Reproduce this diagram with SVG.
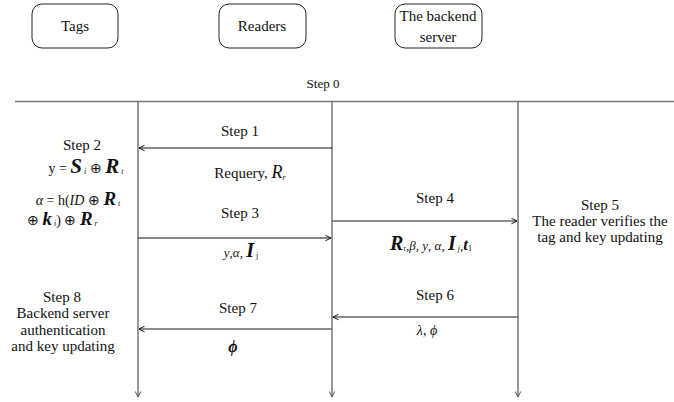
<svg xmlns="http://www.w3.org/2000/svg" width="674" height="402" viewBox="0 0 674 402">
<style>
text{font-family:"Liberation Serif","Times New Roman",serif;fill:#111}
.t{font-size:15px;text-anchor:middle}
.h{font-size:15px;text-anchor:middle}
.box{fill:#fff;stroke:#222;stroke-width:1}
.life{stroke:#777;stroke-width:1.5;fill:none}
.msg{stroke:#111;stroke-width:1.2;fill:none}
.msgg{stroke:#666;stroke-width:1.3;fill:none}
.bi{font-weight:bold;font-style:italic}
.i{font-style:italic}
</style>
<defs>
<marker id="ah" viewBox="0 0 10 10" refX="9" refY="5" markerWidth="7" markerHeight="7" markerUnits="userSpaceOnUse" orient="auto">
<polyline points="1,1 9,5 1,9" fill="none" stroke="#111" stroke-width="1.4"/>
</marker>
<marker id="ahg" viewBox="0 0 10 10" refX="9" refY="5" markerWidth="7" markerHeight="7" markerUnits="userSpaceOnUse" orient="auto">
<polyline points="1,1 9,5 1,9" fill="none" stroke="#555" stroke-width="1.4"/>
</marker>
</defs>

<g id="tags">
<rect class="box" x="32" y="4" width="86" height="44" rx="10"/>
<text class="h" x="75" y="31">Tags</text>
</g>
<g id="readers">
<rect class="box" x="219" y="4" width="87" height="44" rx="10"/>
<text class="h" x="262" y="31">Readers</text>
</g>
<g id="server">
<rect class="box" x="395" y="4" width="87" height="44" rx="10"/>
<text class="h" x="438" y="21">The backend</text>
<text class="h" x="438" y="42">server</text>
</g>

<g id="connectors">
<line class="life" x1="15" y1="101.5" x2="674" y2="101.5"/>
<line class="life" x1="138" y1="101" x2="138" y2="397" marker-end="url(#ahg)"/>
<line class="life" x1="332" y1="101" x2="332" y2="397" marker-end="url(#ahg)"/>
<line class="life" x1="518" y1="101" x2="518" y2="397" marker-end="url(#ahg)"/>
<line class="msg" x1="332" y1="148" x2="139" y2="148" marker-end="url(#ah)"/>
<line class="msg" x1="138" y1="238" x2="331" y2="238" marker-end="url(#ah)"/>
<line class="msgg" x1="332" y1="221" x2="517" y2="221" marker-end="url(#ah)"/>
<line class="msgg" x1="518" y1="317" x2="333" y2="317" marker-end="url(#ah)"/>
<line class="msgg" x1="332" y1="329" x2="139" y2="329" marker-end="url(#ah)"/>
</g>

<g id="labels">
<text x="323" y="88" font-size="13" text-anchor="middle">Step 0</text>
<text class="t" x="240" y="136">Step 1</text>
<text x="250" y="178" text-anchor="middle" font-size="15">Requery, <tspan class="i" font-size="18">R</tspan><tspan class="i" font-size="8" dy="2">r</tspan></text>
<text class="t" x="240" y="218">Step 3</text>
<text x="241" y="257" text-anchor="middle" font-size="13"><tspan class="i">y</tspan>,<tspan class="i">α</tspan>, <tspan class="bi" font-size="20">I</tspan><tspan font-size="8" dy="1"> j</tspan></text>

<text class="t" x="82" y="150">Step 2</text>
<text x="86" y="173" text-anchor="middle" font-size="14">y = <tspan class="bi" font-size="21">S</tspan><tspan class="i" font-size="8" dy="1"> i</tspan><tspan dy="-1"> ⊕ </tspan><tspan class="bi" font-size="21">R</tspan><tspan class="i" font-size="8" dy="1"> t</tspan></text>
<text x="78" y="205" text-anchor="middle" font-size="14"><tspan class="i">α</tspan> = h(<tspan class="i">ID</tspan> ⊕ <tspan class="bi" font-size="19">R</tspan><tspan class="i" font-size="8" dy="1"> t</tspan></text>
<text x="27" y="225" font-size="14">⊕ <tspan class="bi" font-size="19">k</tspan><tspan class="i" font-size="8" dy="1"> i</tspan><tspan dy="-1">) ⊕ </tspan><tspan class="bi" font-size="19">R</tspan><tspan class="i" font-size="8" dy="1"> r</tspan></text>

<text class="t" x="435" y="203">Step 4</text>
<text x="431" y="250" text-anchor="middle" font-size="13"><tspan class="bi" font-size="20">R</tspan><tspan font-size="8" dy="1">r</tspan><tspan dy="-1">,</tspan><tspan class="i">β</tspan>, <tspan class="i">y</tspan>, <tspan class="i">α</tspan>, <tspan class="bi" font-size="20">I</tspan><tspan class="i" font-size="8" dy="1"> j</tspan><tspan dy="-1">,</tspan><tspan class="bi" font-size="17">t</tspan><tspan font-size="8" dy="1">1</tspan></text>

<text class="t" x="600" y="210">Step 5</text>
<text class="t" x="600" y="226">The reader verifies the</text>
<text class="t" x="600" y="242">tag and key updating</text>

<text class="t" x="435" y="300">Step 6</text>
<text x="427" y="335" text-anchor="middle" font-size="14"><tspan class="i">λ</tspan>,  <tspan class="i">ϕ</tspan></text>

<text class="t" x="238" y="313">Step 7</text>
<text class="bi" x="233" y="352" text-anchor="middle" font-size="16">ϕ</text>

<text class="t" x="62" y="302">Step 8</text>
<text class="t" x="63" y="318">Backend server</text>
<text class="t" x="63" y="335">authentication</text>
<text class="t" x="63" y="351">and key updating</text>
</g>
</svg>
